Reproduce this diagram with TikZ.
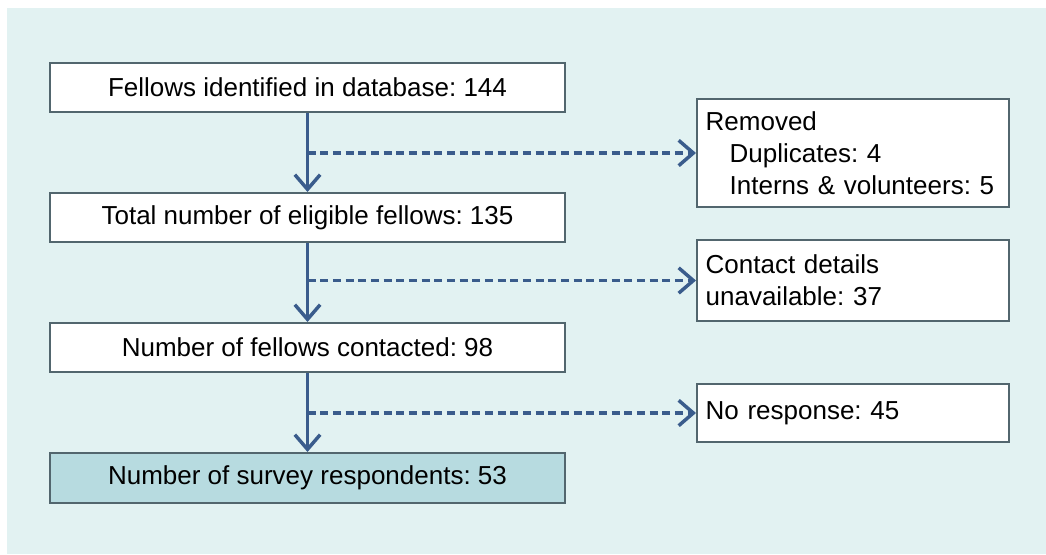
\documentclass[tikz,border=0pt]{standalone}
\usepackage{fontspec}
\setmainfont{Liberation Sans}
\usetikzlibrary{arrows.meta}
\definecolor{bgteal}{HTML}{E2F2F2}
\definecolor{boxline}{HTML}{52666E}
\definecolor{flowblue}{HTML}{3A5C8C}
\definecolor{resultfill}{HTML}{B7DBE0}
\frenchspacing
\begin{document}
\begin{tikzpicture}[x=0.75pt,y=-0.75pt,
    boxfont/.style={font=\fontsize{19.5}{24}\selectfont},
    mainbox/.style={boxfont, draw=boxline, line width=1.5pt, fill=white,
      minimum width=386.25pt, minimum height=36.75pt, inner sep=0pt},
    sidebox/.style={boxfont, draw=boxline, line width=1.5pt, fill=white,
      anchor=west, text width=221pt, inner xsep=6.5pt, inner ysep=0pt, align=left},
    flow/.style={draw=flowblue, line width=2.6pt, -{Straight Barb[length=11pt,width=19pt]}},
    skipflow/.style={flow, dash pattern=on 6pt off 3.5pt}]
    \useasboundingbox (0,0) rectangle (1046,554);
    \fill[bgteal] (7,8) rectangle (1046,554);
    % main column
    \node[mainbox] (found) at (307.5,87.5) {Fellows identified in database: 144};
    \node[mainbox] (eligible) at (307.5,217.5) {Total number of eligible fellows: 135};
    \node[mainbox] (contacted) at (307.5,347.5) {Number of fellows contacted: 98};
    \node[mainbox, fill=resultfill, minimum height=37.5pt] (respond) at (307.5,478) {Number of survey respondents: 53};
    % side boxes
    \node[sidebox, minimum height=81pt] (removed) at (696,153) {Removed\\
      \hspace*{18pt}Duplicates: 4\\
      \hspace*{18pt}Interns \& volunteers: 5};
    \node[sidebox, minimum height=60.75pt] (nodetails) at (696,280.5) {Contact details\\unavailable: 37};
    \node[sidebox, minimum height=43.5pt] (noreply) at (696,413) {No response: 45};
    % arrows
    \draw[flow] (found) -- (eligible);
    \draw[flow] (eligible) -- (contacted);
    \draw[flow] (contacted) -- (respond);
    \draw[skipflow] (removed.west -| found.south) -- (removed.west);
    \draw[skipflow] (nodetails.west -| found.south) -- (nodetails.west);
    \draw[skipflow] (noreply.west -| found.south) -- (noreply.west);
\end{tikzpicture}
\end{document}
